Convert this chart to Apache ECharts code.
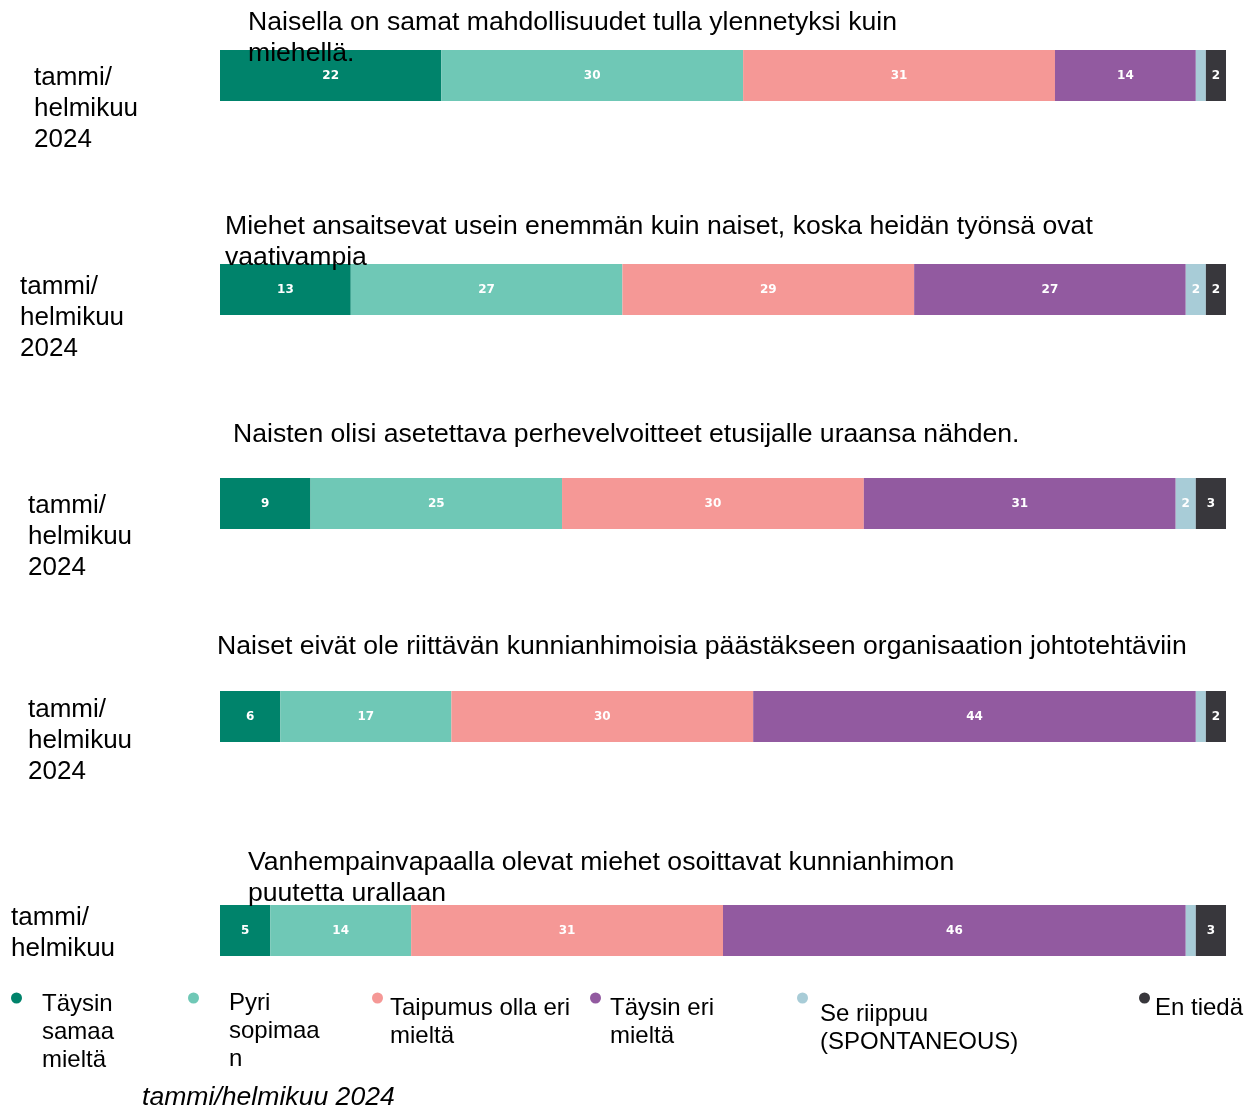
<!DOCTYPE html>
<html>
<head>
<meta charset="utf-8">
<script src="https://cdn.jsdelivr.net/npm/echarts@6/dist/echarts.min.js"></script>
<style>
html,body{margin:0;padding:0;background:#fff;}
#chart{width:1253px;height:1111px;}
</style>
</head>
<body>
<div id="chart"></div>
<script>
// ---- Data ----
const statements = [
  'Naisella on samat mahdollisuudet tulla ylennetyksi kuin miehellä.',
  'Miehet ansaitsevat usein enemmän kuin naiset, koska heidän työnsä ovat vaativampia',
  'Naisten olisi asetettava perhevelvoitteet etusijalle uraansa nähden.',
  'Naiset eivät ole riittävän kunnianhimoisia päästäkseen organisaation johtotehtäviin',
  'Vanhempainvapaalla olevat miehet osoittavat kunnianhimon puutetta urallaan'
];
const periodLabel = 'tammi/helmikuu 2024';
const responseNames = [
  'Täysin samaa mieltä',
  'Pyri sopimaan',
  'Taipumus olla eri mieltä',
  'Täysin eri mieltä',
  'Se riippuu (SPONTANEOUS)',
  'En tiedä'
];
const taysinSamaa = [22, 13, 9, 6, 5];
const pyriSopimaan = [30, 27, 25, 17, 14];
const taipumusEri = [31, 29, 30, 30, 31];
const taysinEri = [14, 27, 31, 44, 46];
const seRiippuu = [1, 2, 2, 1, 1];
const enTieda = [2, 2, 3, 2, 3];

// ---- Styling / layout ----
const values = [taysinSamaa, pyriSopimaan, taipumusEri, taysinEri, seRiippuu, enTieda];
const colors = ['#00836b', '#6fc8b6', '#f59896', '#925aa0', '#a8ccd7', '#38373c'];
const FAMILY = '"Liberation Sans", Arial, sans-serif';
const TITLE_SIZE = 26.6;
const gridTops = [50, 264, 478, 691, 905];
const gridH = 51;
const yLabelPos = [[34, 62], [20, 271], [28, 490], [28, 694], [11, 902]];
const titlePos = [[248, 7, 700], [225, 211, 960], [233, 419, 1010], [217, 631, 1010], [248, 847, 770]];

// text wrapping helper (measures with the real font)
const measureCtx = document.createElement('canvas').getContext('2d');
function wrapText(text, fontSize, maxW) {
  measureCtx.font = fontSize + 'px ' + FAMILY;
  const w = s => measureCtx.measureText(s).width;
  const lines = [];
  let line = '';
  text.split(' ').forEach(word => {
    const cand = line ? line + ' ' + word : word;
    if (w(cand) <= maxW) { line = cand; return; }
    if (line) lines.push(line);
    line = '';
    let rest = word;
    while (w(rest) > maxW) {
      let i = 1;
      while (i < rest.length && w(rest.slice(0, i + 1)) <= maxW) i++;
      lines.push(rest.slice(0, i));
      rest = rest.slice(i);
    }
    line = rest;
  });
  if (line) lines.push(line);
  return lines.join('\n');
}

const grid = [], xAxis = [], yAxis = [], series = [];
statements.forEach((s, g) => {
  grid.push({left: 220, width: 1006, top: gridTops[g], height: gridH, outerBoundsMode: 'none', containLabel: false});
  xAxis.push({type: 'value', gridIndex: g, min: 0, max: 100, show: false});
  yAxis.push({
    type: 'category', gridIndex: g, data: [periodLabel],
    axisLine: {show: false}, axisTick: {show: false}, axisLabel: {show: false}
  });
  responseNames.forEach((name, k) => {
    series.push({
      type: 'bar', name: name, stack: 'st' + g,
      xAxisIndex: g, yAxisIndex: g,
      barWidth: '100%',
      itemStyle: {color: colors[k]},
      label: {
        show: true, position: 'inside', color: '#fff',
        fontFamily: '"DejaVu Sans", sans-serif', fontWeight: 'bold', fontSize: 12,
        formatter: p => (p.value >= 2 ? String(p.value) : '')
      },
      data: [values[k][g]]
    });
  });
});

// legends (one per item to match the irregular placement); icon path puts the dot above the text
const legendCfg = [
  {left: 11, top: 990.5, iconH: 80, width: 100, padL: 15},
  {left: 188, top: 989, iconH: 77, width: 95, padL: 25},
  {left: 372, top: 992.5, iconH: 60, width: 190, padL: 2},
  {left: 590, top: 992.5, iconH: 60, width: 130, padL: 4},
  {left: 797, top: 992.5, iconH: 71, width: 210, padL: 7},
  {left: 1139, top: 992.5, iconH: 32, width: 200, padL: 0}
];
const dotIcon = h => 'path://M5.5,0A5.5,5.5,0,1,1,5.5,11A5.5,5.5,0,1,1,5.5,0ZM0,' + h + 'L0.01,' + h + 'L0,' + h + 'Z';
const legend = responseNames.map((name, k) => ({
  data: [name], left: legendCfg[k].left, top: legendCfg[k].top,
  padding: 0, icon: dotIcon(legendCfg[k].iconH), symbolKeepAspect: false,
  itemWidth: 11, itemHeight: legendCfg[k].iconH, selectedMode: false,
  formatter: n => wrapText(n, 24, legendCfg[k].width),
  textStyle: {
    fontFamily: FAMILY, fontSize: 24, color: '#000', lineHeight: 28,
    padding: [0, 0, 0, legendCfg[k].padL]
  }
}));

const graphic = [];
statements.forEach((s, g) => {
  graphic.push({
    type: 'text', z: 100, x: titlePos[g][0], y: titlePos[g][1],
    style: {
      text: wrapText(s, TITLE_SIZE, titlePos[g][2]), fontFamily: FAMILY, fontSize: TITLE_SIZE, fill: '#000',
      lineHeight: 31, verticalAlign: 'top', align: 'left'
    }
  });
  graphic.push({
    type: 'text', z: 90, x: yLabelPos[g][0], y: yLabelPos[g][1],
    style: {
      text: periodLabel.replace('/', '/\n').replace(' ', '\n'),
      fontFamily: FAMILY, fontSize: 26, fill: '#000', lineHeight: 31, verticalAlign: 'top', align: 'left'
    }
  });
});
graphic.push({type: 'rect', z: 95, shape: {x: 0, y: 969, width: 219, height: 18}, style: {fill: '#fff'}});
graphic.push({
  type: 'text', z: 100, x: 142, y: 1084,
  style: {text: periodLabel, fontFamily: FAMILY, fontStyle: 'italic', fontSize: 26.6, fill: '#000', verticalAlign: 'top'}
});

const chart = echarts.init(document.getElementById('chart'), null, {renderer: 'canvas'});
chart.setOption({
  backgroundColor: '#fff',
  animation: false,
  grid, xAxis, yAxis, series, legend, graphic
});
</script>
</body>
</html>
